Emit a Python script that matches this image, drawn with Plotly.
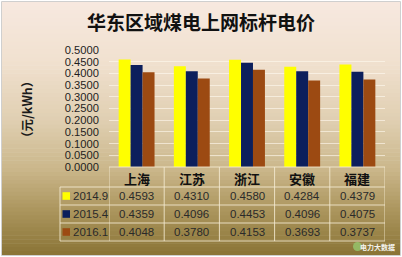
import plotly.graph_objects as go

categories = ["上海", "江苏", "浙江", "安徽", "福建"]
series_names = ["2014.9", "2015.4", "2016.1"]
v2014_9 = [0.4593, 0.4310, 0.4580, 0.4284, 0.4379]
v2015_4 = [0.4359, 0.4096, 0.4453, 0.4096, 0.4075]
v2016_1 = [0.4048, 0.3780, 0.4153, 0.3693, 0.3737]
tick_vals = [0.0, 0.05, 0.1, 0.15, 0.2, 0.25, 0.3, 0.35, 0.4, 0.45, 0.5]
tick_text = ["0.0000", "0.0500", "0.1000", "0.1500", "0.2000", "0.2500",
             "0.3000", "0.3500", "0.4000", "0.4500", "0.5000"]
title_text = "华东区域煤电上网标杆电价"
y_title = "（元/kWh）"

colors = ["#FFFF00", "#0C1F5C", "#9C4A12"]
series = [v2014_9, v2015_4, v2016_1]

W, H = 402, 257
L, R, T, B = 109, 385, 50, 167
PW, PH = R - L, B - T

def px(xp):
    return (xp - L) / PW

def py(yp):
    return (B - yp) / PH

fig = go.Figure()
for name, vals, c in zip(series_names, series, colors):
    fig.add_trace(go.Bar(x=categories, y=vals, name=name, marker=dict(color=c, line=dict(width=0)),
                         showlegend=False))

shapes = []
stops = [(0, (247, 233, 224)), (60, (241, 225, 208)), (120, (224, 207, 178)),
         (170, (202, 182, 138)), (210, (172, 150, 94)), (257, (136, 114, 52))]

def col_at(y):
    for (y0, c0), (y1, c1) in zip(stops[:-1], stops[1:]):
        if y0 <= y <= y1:
            t = (y - y0) / (y1 - y0)
            return tuple(int(round(a + (b - a) * t)) for a, b in zip(c0, c1))
    return stops[-1][1]

n = 64
top, bot = 2, 255
for i in range(n):
    y0 = top + (bot - top) * i / n
    y1 = top + (bot - top) * (i + 1) / n + 0.6
    c = col_at((y0 + y1) / 2)
    shapes.append(dict(type="rect", xref="paper", yref="paper", layer="below",
                       x0=px(2), x1=px(400), y0=py(min(y1, bot)), y1=py(y0),
                       fillcolor="rgb(%d,%d,%d)" % c, line=dict(width=0)))
shapes.append(dict(type="rect", xref="paper", yref="paper", layer="below",
                   x0=px(1.5), x1=px(400.5), y0=py(255.5), y1=py(1.5),
                   line=dict(color="#cfcfcf", width=1)))

tcol = "rgba(245,235,210,0.85)"
row_edges = [167, 187, 205, 223, 241]
row_centers = [196, 214, 232]
for ye in row_edges:
    x0 = px(60) if ye >= 187 else 0
    shapes.append(dict(type="line", xref="paper", yref="paper", x0=x0, x1=1,
                       y0=py(ye), y1=py(ye), line=dict(color=tcol, width=1)))
for i in range(len(categories) + 1):
    shapes.append(dict(type="line", xref="x", yref="paper", x0=i - 0.5, x1=i - 0.5,
                       y0=py(167), y1=py(241), line=dict(color=tcol, width=1)))
shapes.append(dict(type="line", xref="paper", yref="paper", x0=px(60), x1=px(60),
                   y0=py(187), y1=py(241), line=dict(color=tcol, width=1)))

def ann(text, x, y, size, family, color="#2a2a2a", xref="paper", xanchor="center", **kw):
    return dict(text=text, xref=xref, yref="paper", x=x, y=y, showarrow=False,
                xanchor=xanchor, yanchor="middle",
                font=dict(family=family, size=size, color=color), **kw)

annotations = []
annotations.append(ann("<b>" + title_text + "</b>", px(201), py(21), 19, "Noto Sans CJK SC", "#111"))
annotations.append(ann("<b>" + y_title + "</b>", px(26), py(110), 12.5, "Noto Sans CJK SC", "#1a1a1a",
                       textangle=-90))
for cat in categories:
    annotations.append(ann("<b>" + cat + "</b>", cat, py(178), 13, "Noto Sans CJK SC", "#111", xref="x"))
for r, (name, vals, c) in enumerate(zip(series_names, series, colors)):
    yc = py(row_centers[r])
    shapes.append(dict(type="rect", xref="paper", yref="paper", x0=px(62.5), x1=px(70),
                       y0=py(row_centers[r] + 3.8), y1=py(row_centers[r] - 3.8),
                       fillcolor=c, line=dict(width=0)))
    annotations.append(ann(name, px(71), yc, 11.5, "Liberation Sans", xanchor="left"))
    for cat, v in zip(categories, vals):
        annotations.append(ann("%.4f" % v, cat, yc, 11.5, "Liberation Sans", xref="x"))
annotations.append(ann("<b>电力大数据</b>", px(397), py(247), 7, "Noto Sans CJK SC", "#f4f4f0",
                       xanchor="right"))
shapes.append(dict(type="circle", xref="paper", yref="paper", x0=px(353), x1=px(362),
                   y0=py(251), y1=py(242), fillcolor="rgba(150,200,110,0.8)", line=dict(width=0)))

fig.update_layout(
    width=W, height=H,
    margin=dict(l=L, r=W - R, t=T, b=H - B, pad=0),
    paper_bgcolor="white", plot_bgcolor="rgba(0,0,0,0)",
    barmode="group", bargap=0.35, bargroupgap=0,
    shapes=shapes, annotations=annotations,
    xaxis=dict(showticklabels=False, showgrid=False, zeroline=False, showline=False,
               range=[-0.5, 4.5]),
    yaxis=dict(range=[0, 0.5], tickvals=tick_vals, ticktext=tick_text,
               showgrid=True, gridcolor="rgba(255,250,240,0.6)", gridwidth=1,
               zeroline=False, showline=False, ticks="", ticklabelstandoff=9,
               tickfont=dict(family="Liberation Sans", size=11.2, color="#1e1e1e")),
    font=dict(family="Liberation Sans"),
)
fig.write_html("out.html")
